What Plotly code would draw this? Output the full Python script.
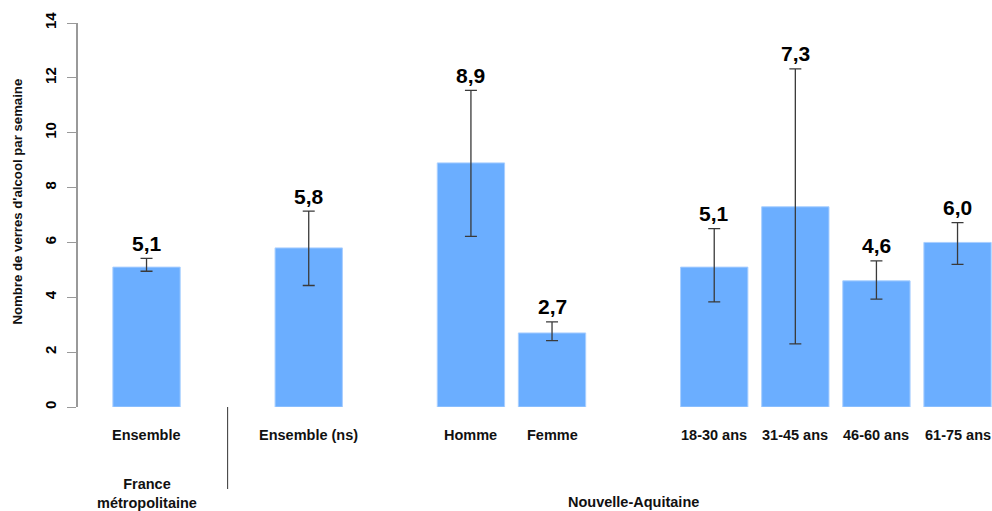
import plotly.graph_objects as go

categories = ["Ensemble", "Ensemble (ns)", "Homme", "Femme",
              "18-30 ans", "31-45 ans", "46-60 ans", "61-75 ans"]
slots = [0, 2, 4, 5, 7, 8, 9, 10]
values = [5.1, 5.8, 8.9, 2.7, 5.1, 7.3, 4.6, 6.0]
ci_low = [4.95, 4.43, 6.22, 2.42, 3.83, 2.3, 3.93, 5.2]
ci_high = [5.42, 7.14, 11.54, 3.1, 6.5, 12.33, 5.33, 6.72]
groups = ["France<br>métropolitaine", "Nouvelle-Aquitaine"]
group_slots = [0, 6]
y_ticks = [0, 2, 4, 6, 8, 10, 12, 14]

FONT = "Liberation Sans, Arial, sans-serif"
W, H = 992, 511
ml, mr, mt, mb = 78, 0, 23, 104
plot_h = H - mt - mb

fig = go.Figure()
fig.add_trace(go.Bar(
    x=slots, y=values, width=0.83,
    marker=dict(color="#6BAEFF", line=dict(color="#A9CFFF", width=1)),
    error_y=dict(type="data", symmetric=False,
                 array=[h - v for h, v in zip(ci_high, values)],
                 arrayminus=[v - l for v, l in zip(values, ci_low)],
                 color="#3a3a3a", thickness=1.3, width=6),
    hoverinfo="skip", showlegend=False,
))

annotations = []
for s, v, h in zip(slots, values, ci_high):
    annotations.append(dict(
        x=s, y=h, xref="x", yref="y", text=f"<b>{v:.1f}</b>".replace(".", ","),
        showarrow=False, yanchor="middle", yshift=15,
        font=dict(family=FONT, size=21, color="black")))
for s, c in zip(slots, categories):
    annotations.append(dict(
        x=s, y=0, xref="x", yref="paper", text=f"<b>{c}</b>",
        showarrow=False, yanchor="middle", yshift=-28,
        font=dict(family=FONT, size=14.5, color="#111")))
annotations.append(dict(
    x=group_slots[0], y=0, xref="x", yref="paper", text=f"<b>{groups[0]}</b>",
    showarrow=False, yanchor="middle", yshift=-86,
    font=dict(family=FONT, size=14.5, color="#111")))
annotations.append(dict(
    x=group_slots[1], y=0, xref="x", yref="paper", text=f"<b>{groups[1]}</b>",
    showarrow=False, yanchor="middle", yshift=-95,
    font=dict(family=FONT, size=14.5, color="#111")))
annotations.append(dict(
    x=0, y=0.5, xref="paper", yref="paper", xshift=-61, yshift=13.5,
    text="<b>Nombre de verres d'alcool par semaine</b>", textangle=-90,
    showarrow=False, xanchor="center", yanchor="middle",
    font=dict(family=FONT, size=13.2, color="#111")))

fig.add_shape(type="line", xref="x", yref="paper", x0=1, x1=1,
              y0=0, y1=-(489 - (H - mb)) / plot_h,
              line=dict(color="#333", width=1))

fig.update_layout(
    width=W, height=H,
    margin=dict(l=ml, r=mr, t=mt, b=mb),
    plot_bgcolor="white", paper_bgcolor="white",
    annotations=annotations,
    xaxis=dict(range=[-0.845, 10.425], showticklabels=False, ticks="",
               showgrid=False, zeroline=False, showline=False, fixedrange=True),
    yaxis=dict(range=[0, 14], tickvals=y_ticks, ticktext=[str(t) for t in y_ticks],
               ticks="outside", ticklen=9, tickcolor="#999", tickwidth=1,
               showline=True, linecolor="#999", linewidth=1.5,
               tickangle=-90, ticklabelstandoff=5,
               showgrid=False, zeroline=False,
               tickfont=dict(family=FONT, size=15, color="black", weight="bold"),
               fixedrange=True),
    font=dict(family=FONT),
)

fig.write_html("out.html", config={"displayModeBar": False},
               post_script="document.body.style.margin='0';")
